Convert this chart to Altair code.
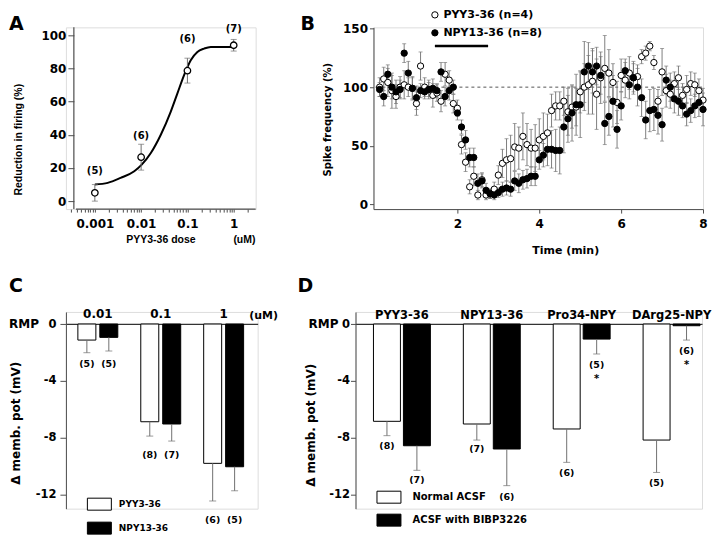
import json
import altair as alt
import pandas as pd

FONT = "DejaVu Sans"
FONT_A = "Liberation Sans"
AXC = "#4d4d4d"
ERRC = "#707070"

# ---------------- Panel A : dose-response ----------------
a_dose = [0.001, 0.01, 0.1, 1.0]
a_mean = [5.0, 26.5, 78.7, 94.0]
a_sem = [5.0, 7.8, 7.5, 3.5]
a_n = ["(5)", "(6)", "(6)", "(7)"]
a_n_y = [18.0, 39.0, 97.5, 104.0]
a_fit_dose = [0.001, 0.0019, 0.0036, 0.0071, 0.0103, 0.0162, 0.0266, 0.0437,
              0.0608, 0.0847, 0.118, 0.164, 0.229, 0.319, 0.55, 1.0]
a_fit_val = [10.0, 11.0, 14.0, 18.0, 22.0, 29.0, 40.0, 54.0,
             65.0, 76.0, 85.0, 90.0, 92.0, 93.0, 93.0, 93.0]
a_tick_labels = ["0.001", "0.01", "0.1", "1"]
a_y_ticks = [0, 20, 40, 60, 80, 100]
a_x_domain = [0.000237, 2.98]
a_y_domain = [-4.8, 104.8]
a_axis_x = [0.000352]
a_axis_x_start = [0.00039]
a_axis_y_end = [104.8]

# ---------------- Panel B : time course ----------------
b_series = ["PYY3-36 (n=4)", "NPY13-36 (n=8)"]
b_t = [round(0.1 * i, 1) for i in range(1, 81)]
b_pyy = [100, 107, 104, 97, 92, 100, 102, 100, 99, 86,
         118, 100, 98, 93, 95, 88, 111, 106, 86, 82,
         51, 36, 15, 24, 8, 21, 8, 9, 13, 25,
         35, 38, 39, 49, 48, 58, 51, 48, 48, 55,
         58, 61, 80, 84, 84, 88, 79, 83, 83, 96,
         100, 102, 105, 94, 108, 116, 112, 104, 87, 110,
         106, 112, 108, 109, 126, 129, 135, 121, 88, 113,
         97, 94, 103, 108, 93, 98, 103, 102, 97, 89]
b_pyy_sem = [8, 10, 12, 15, 10, 9, 12, 8, 9, 10,
             12, 8, 8, 10, 7, 9, 10, 8, 8, 7,
             8, 8, 6, 8, 4, 6, 4, 4, 6, 8,
             12, 18, 20, 20, 18, 20, 18, 16, 20, 18,
             20, 16, 14, 12, 12, 12, 20, 18, 16, 18,
             20, 25, 28, 30, 22, 28, 20, 16, 18, 14,
             15, 14, 12, 10, 6, 6, 4, 6, 10, 20,
             14, 12, 10, 10, 10, 12, 10, 10, 10, 10]
b_npy = [98, 92, 111, 100, 96, 98, 129, 112, 99, 91,
         97, 96, 98, 99, 97, 113, 92, 97, 100, 78,
         66, 55, 40, 40, 18, 20, 12, 9, 8, 10,
         13, 14, 13, 20, 18, 21, 22, 24, 24, 38,
         42, 47, 47, 46, 46, 66, 73, 78, 85, 85,
         113, 118, 113, 118, 110, 69, 75, 88, 64, 84,
         114, 102, 108, 100, 91, 72, 80, 81, 76, 68,
         106, 100, 90, 88, 84, 77, 80, 84, 87, 81]
b_npy_sem = [6, 8, 8, 10, 10, 8, 8, 10, 10, 10,
             6, 6, 6, 8, 6, 8, 8, 8, 6, 6,
             6, 8, 8, 8, 8, 6, 6, 4, 4, 4,
             6, 6, 6, 8, 8, 8, 8, 8, 8, 8,
             10, 14, 16, 18, 20, 22, 20, 24, 26, 28,
             26, 20, 18, 16, 16, 18, 16, 22, 16, 12,
             10, 12, 14, 16, 16, 16, 18, 18, 16, 14,
             12, 12, 12, 12, 10, 10, 10, 10, 12, 14]
b_drug = [1.45, 2.75]
b_drug_level = [135]
b_baseline = [100]
b_x_ticks = [2, 4, 6, 8]
b_y_ticks = [0, 50, 100, 150]
b_x_domain = [-0.05, 8.0]
b_y_domain = [-4, 151]

# ---------------- Panel C : membrane potential vs dose ----------------
c_conc = ["0.01", "0.1", "1"]
c_drugs = ["PYY3-36", "NPY13-36"]
c_pyy = [-1.13, -6.88, -9.81]
c_pyy_err = [-2.02, -7.89, -12.46]
c_npy = [-0.94, -7.04, -10.05]
c_npy_err = [-1.9, -8.24, -11.74]
c_n_pyy = ["(5)", "(8)", "(6)"]
c_n_npy = ["(5)", "(7)", "(5)"]
c_n_y = [-2.8, -9.2, -13.8]

# ---------------- Panel D : BIBP3226 ----------------
d_groups = ["PYY3-36", "NPY13-36", "Pro34-NPY", "DArg25-NPY"]
d_cond = ["Normal ACSF", "ACSF with BIBP3226"]
d_normal = [-6.85, -7.04, -7.39, -8.17]
d_normal_err = [-7.86, -8.17, -9.74, -10.45]
d_bibp = [-8.57, -8.8, -1.06, -0.12]
d_bibp_err = [-10.3, -11.38, -2.11, -1.13]
d_n_normal = ["(8)", "(7)", "(6)", "(5)"]
d_n_bibp = ["(7)", "(6)", "(5)", "(6)"]
d_n_normal_y = [-8.57, -8.8, -10.5, -11.2]
d_n_bibp_y = [-11.0, -12.2, -2.86, -1.88]
d_star = ["", "", "*", "*"]
d_star_y = [-3.9, -3.9, -3.87, -2.89]

cd_y_ticks = [0, -4, -8, -12]
cd_y_domain = [-13.0, 0.85]

panel_letters = ["A", "B", "C", "D"]

TOP_H = 182

lab = dict(labelFont=FONT, labelFontWeight="bold", labelColor="black", grid=False,
           domainColor=AXC, tickColor=AXC, labelOverlap=False, labelFlush=False,
           titleColor="black", titleFontWeight="bold")


def letter(ch, x, y):
    return alt.Chart(pd.DataFrame({"letter": [ch]})).mark_text(
        font=FONT, fontWeight="bold", fontSize=19, align="left", baseline="alphabetic", color="black"
    ).encode(x=alt.value(x), y=alt.value(y), text="letter:N")


# ======== A ========
a_df = pd.DataFrame({
    "dose": a_dose, "mean": a_mean,
    "lo": [m - s for m, s in zip(a_mean, a_sem)],
    "hi": [m + s for m, s in zip(a_mean, a_sem)],
    "n": a_n, "ny": a_n_y})
fit_df = pd.DataFrame({"dose": a_fit_dose, "mean": a_fit_val})
minor = [round(k * 10.0 ** p, 6) for p in range(-4, 1) for k in range(1, 10)]
minor = [v for v in minor if a_x_domain[0] <= v <= a_x_domain[1]]
a_label_expr = ("indexof(%s, format(datum.value, '~g')) >= 0 ? format(datum.value, '~g') : ''"
                % json.dumps(a_tick_labels))

a_xaxis = alt.Axis(values=minor, labelExpr=a_label_expr, domain=False, tickSize=3,
                   labelPadding=6, labelFontSize=12,
                   title="PYY3-36 dose" + "\u00a0" * 13 + "(uM)",
                   titleX=60, titleY=30, titleAlign="left", titleBaseline="middle",
                   titleFont=FONT_A, titleFontSize=10.5, **lab)
a_yaxis = alt.Axis(values=a_y_ticks, offset=-8, domain=False, tickSize=6, labelPadding=2,
                   labelFontSize=12, title="Reduction in firing (%)",
                   titleX=-55, titleY=112, titleBaseline="middle", titleAlign="center",
                   titleFont=FONT_A, titleFontSize=10.5, **lab)
a_xscale = alt.Scale(type="log", domain=a_x_domain, nice=False)
a_yscale = alt.Scale(domain=a_y_domain, nice=False, zero=False)


def ax(field):
    return alt.X(field, type="quantitative", scale=a_xscale, axis=a_xaxis)


def ay(field):
    return alt.Y(field, type="quantitative", scale=a_yscale, axis=a_yaxis)


a_axes = pd.DataFrame({"dose": a_axis_x, "dose_start": a_axis_x_start, "y0": [a_y_domain[0]],
                       "y1": a_axis_y_end, "x1": [a_x_domain[1]]})
a_yline = alt.Chart(a_axes).mark_rule(color=AXC, strokeWidth=1.2).encode(
    x=ax("dose"), y=ay("y0"), y2="y1:Q")
a_xline = alt.Chart(a_axes).mark_rule(color=AXC, strokeWidth=1.2).encode(
    x=ax("dose_start"), x2="x1:Q", y=ay("y0"))
a_fit = alt.Chart(fit_df).mark_line(color="black", strokeWidth=2, interpolate="monotone").encode(
    x=ax("dose"), y=ay("mean"))
a_err = alt.Chart(a_df).mark_rule(color=ERRC).encode(x=ax("dose"), y=ay("lo"), y2="hi:Q")
a_cap1 = alt.Chart(a_df).mark_tick(orient="horizontal", size=6, thickness=1, color=ERRC).encode(
    x=ax("dose"), y=ay("hi"))
a_cap2 = alt.Chart(a_df).mark_tick(orient="horizontal", size=6, thickness=1, color=ERRC).encode(
    x=ax("dose"), y=ay("lo"))
a_pts = alt.Chart(a_df).mark_point(shape="circle", filled=True, fill="white", stroke="black",
                                   strokeWidth=1.3, size=42, opacity=1).encode(x=ax("dose"), y=ay("mean"))
a_txt = alt.Chart(a_df).mark_text(font=FONT, fontWeight="bold", fontSize=10, baseline="middle",
                                  color="black").encode(x=ax("dose"), y=ay("ny"), text="n:N")
chartA = alt.layer(a_fit, a_yline, a_xline, a_err, a_cap1, a_cap2, a_pts, a_txt,
                   letter(panel_letters[0], -57, 3)).properties(width=190, height=TOP_H)

# ======== B ========
b_df = pd.DataFrame({
    "t": b_t + b_t,
    "series": [b_series[0]] * len(b_t) + [b_series[1]] * len(b_t),
    "value": b_pyy + b_npy,
    "sem": b_pyy_sem + b_npy_sem})
b_df["lo"] = b_df["value"] - b_df["sem"]
b_df["hi"] = b_df["value"] + b_df["sem"]

b_xaxis = alt.Axis(values=b_x_ticks, tickSize=4, labelPadding=5, labelFontSize=12,
                   title="Time (min)", titleX=192, titleY=41, titleBaseline="middle",
                   titleFont=FONT, titleFontSize=11, **lab)
b_yaxis = alt.Axis(values=b_y_ticks, tickSize=4, labelPadding=2, labelFontSize=12,
                   title="Spike frequency (%)", titleX=-46, titleY=92, titleBaseline="middle",
                   titleFont=FONT, titleFontSize=10, **lab)
b_xscale = alt.Scale(domain=b_x_domain, nice=False, zero=False)
b_yscale = alt.Scale(domain=b_y_domain, nice=False, zero=False)


def bx(field):
    return alt.X(field, type="quantitative", scale=b_xscale, axis=b_xaxis)


def by(field):
    return alt.Y(field, type="quantitative", scale=b_yscale, axis=b_yaxis)


b_ref = pd.DataFrame({"t0": [0.0], "t1": [b_x_domain[1]], "v": b_baseline})
b_bar = pd.DataFrame({"t0": [b_drug[0]], "t1": [b_drug[1]], "v": b_drug_level})
b_dash = alt.Chart(b_ref).mark_rule(color="#555", strokeDash=[3, 3], strokeWidth=1).encode(
    x=bx("t0"), x2="t1:Q", y=by("v"))
b_drugbar = alt.Chart(b_bar).mark_rule(color="black", strokeWidth=2.5).encode(
    x=bx("t0"), x2="t1:Q", y=by("v"))
b_err = alt.Chart(b_df).mark_rule(color=ERRC, strokeWidth=0.9).encode(x=bx("t"), y=by("lo"), y2="hi:Q")
b_cap1 = alt.Chart(b_df).mark_tick(orient="horizontal", size=4, thickness=0.9, color=ERRC).encode(
    x=bx("t"), y=by("hi"))
b_cap2 = alt.Chart(b_df).mark_tick(orient="horizontal", size=4, thickness=0.9, color=ERRC).encode(
    x=bx("t"), y=by("lo"))
b_pts = alt.Chart(b_df).mark_point(shape="circle", filled=True, stroke="black", strokeWidth=1,
                                   size=40, opacity=1).encode(
    x=bx("t"), y=by("value"),
    fill=alt.Fill("series:N", scale=alt.Scale(domain=b_series, range=["white", "black"]),
                  legend=alt.Legend(orient="none", legendX=56, legendY=-18, title=None,
                                    symbolType="circle", symbolSize=40, symbolStrokeColor="black",
                                    symbolStrokeWidth=1, labelFont=FONT, labelFontWeight="bold",
                                    labelFontSize=11, labelOffset=3, rowPadding=6, padding=0)))
chartB = alt.layer(b_dash, b_drugbar, b_err, b_cap1, b_cap2, b_pts,
                   letter(panel_letters[1], -73, 3)).properties(width=330, height=TOP_H)


# ======== C & D helpers ========
def bar_panel(df, groups, conds, width, pad_inner, pad_outer, align, off_inner, unit_title,
              y_title_x, y_title_y, tick_size, lab_pad, legend, rmp_x, let, let_x, top_font,
              stars=None):
    step = width / (len(groups) - pad_inner + 2 * pad_outer)
    bandw = step * (1 - pad_inner)
    xs = alt.X("grp:N", sort=groups,
               scale=alt.Scale(paddingInner=pad_inner, paddingOuter=pad_outer, align=align, round=False),
               axis=alt.Axis(orient="top", offset=-12, ticks=False, labelPadding=3, labelAngle=0,
                             labelFontSize=top_font, domainWidth=1.3, domainColor="#333",
                             title=unit_title, titleX=183, titleY=-5, titleAlign="left",
                             titleBaseline="alphabetic", titleFont=FONT, titleFontSize=11,
                             **{k: v for k, v in lab.items() if k != "domainColor"}))
    xo = alt.XOffset("cond:N", sort=conds,
                     scale=alt.Scale(range=[0, bandw], paddingInner=off_inner, paddingOuter=0, round=False))
    yax = alt.Axis(values=cd_y_ticks, labelExpr="'' + datum.value", tickSize=tick_size,
                   labelPadding=lab_pad, labelFontSize=11.5, title="\u0394 memb. pot (mV)",
                   titleX=y_title_x, titleY=y_title_y, titleBaseline="middle",
                   titleFont=FONT, titleFontSize=12, **lab)
    ysc = alt.Scale(domain=cd_y_domain, nice=False, zero=False)

    def ys(field):
        return alt.Y(field, type="quantitative", scale=ysc, axis=yax)

    bars = alt.Chart(df).mark_bar(stroke="black", strokeWidth=1).encode(
        x=xs, xOffset=xo, y=ys("value"), y2=alt.datum(0),
        fill=alt.Fill("cond:N", scale=alt.Scale(domain=conds, range=["white", "black"]), legend=legend))
    err = alt.Chart(df).mark_rule(color=ERRC).encode(x=xs, xOffset=xo, y=ys("value"), y2="err:Q")
    cap = alt.Chart(df).mark_tick(orient="horizontal", size=7, thickness=1, color=ERRC).encode(
        x=xs, xOffset=xo, y=ys("err"))
    txt = alt.Chart(df).mark_text(font=FONT, fontWeight="bold", fontSize=9.5, baseline="middle",
                                  color="black").encode(x=xs, xOffset=xo, y=ys("ny"), text="n:N")
    rmp = alt.Chart(pd.DataFrame({"lab": ["RMP"], "v": [0]})).mark_text(
        font=FONT, fontWeight="bold", fontSize=12, align="left", baseline="middle", color="black").encode(
        x=alt.value(rmp_x), y=ys("v"), text="lab:N")
    layers = [bars, err, cap, txt, rmp]
    if stars is not None:
        layers.append(alt.Chart(stars).mark_text(font=FONT, fontWeight="bold", fontSize=10,
                                                 baseline="middle", color="black").encode(
            x=xs, xOffset=xo, y=ys("sy"), text="star:N"))
    layers.append(letter(let, let_x, -20))
    return alt.layer(*layers).properties(width=width, height=197)


c_df = pd.DataFrame({
    "grp": c_conc * 2,
    "cond": [c_drugs[0]] * 3 + [c_drugs[1]] * 3,
    "value": c_pyy + c_npy,
    "err": c_pyy_err + c_npy_err,
    "n": c_n_pyy + c_n_npy,
    "ny": c_n_y * 2})
legC = alt.Legend(orient="none", legendX=27, legendY=186, title=None, symbolType="M-2,-1H2V1H-2Z",
                  symbolSize=144, symbolStrokeColor="black", symbolStrokeWidth=1, labelFont=FONT,
                  labelFontWeight="bold", labelFontSize=9, labelOffset=13, rowPadding=7, padding=0)
chartC = bar_panel(c_df, c_conc, c_drugs, 192, 0.365, 0.2065, 0.46, 0.18, "(uM)",
                   -50, 111, 6, 4, legC, -57, panel_letters[2], -57, 12)

d_df = pd.DataFrame({
    "grp": d_groups * 2,
    "cond": [d_cond[0]] * 4 + [d_cond[1]] * 4,
    "value": d_normal + d_bibp,
    "err": d_normal_err + d_bibp_err,
    "n": d_n_normal + d_n_bibp,
    "ny": d_n_normal_y + d_n_bibp_y})
d_stars = pd.DataFrame({"grp": d_groups, "cond": [d_cond[1]] * 4, "star": d_star, "sy": d_star_y})
d_stars = d_stars[d_stars["star"] != ""]
legD = alt.Legend(orient="none", legendX=27, legendY=179, title=None, symbolType="M-2,-1H2V1H-2Z",
                  symbolSize=144, symbolStrokeColor="black", symbolStrokeWidth=1, labelFont=FONT,
                  labelFontWeight="bold", labelFontSize=10, labelOffset=17, rowPadding=6, padding=0)
chartD = bar_panel(d_df, d_groups, d_cond, 347, 0.3667, 0.111, 0.9, 0.1, "",
                   -45, 113, 5, 1, legD, -47, panel_letters[3], -58, 11.5, stars=d_stars)

indep = dict(fill="independent", xOffset="independent", x="independent", y="independent")
top = alt.hconcat(chartA, chartB, spacing=118, bounds="flush").resolve_scale(
    **indep).resolve_legend(fill="independent")
bottom = alt.hconcat(chartC, chartD, spacing=98, bounds="flush").resolve_scale(
    **indep).resolve_legend(fill="independent")
chart = alt.vconcat(top, bottom, spacing=20).resolve_scale(
    **indep).resolve_legend(fill="independent").properties(
    padding=0, autosize=alt.AutoSizeParams(type="pad")
).configure_view(stroke=None).configure(background="white")

chart.save("out.html", embed_options={"renderer": "svg", "actions": False})
